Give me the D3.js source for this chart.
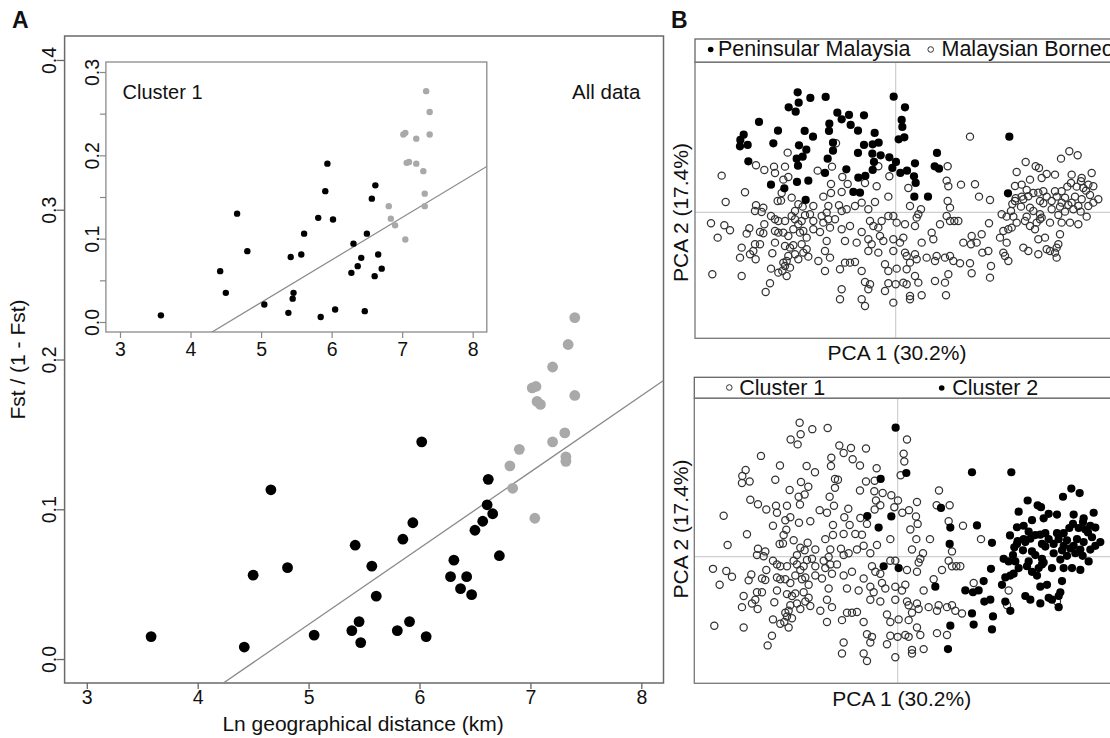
<!DOCTYPE html>
<html><head><meta charset="utf-8">
<script src="https://cdn.jsdelivr.net/npm/d3@7"></script>
<style>
body{margin:0;background:#fff}
svg{display:block}
text{font-family:"Liberation Sans",Arial,Helvetica,sans-serif;fill:#111}
</style>
</head><body>
<svg id="chart" width="1110" height="738"></svg>
<script>
// ---------------- DATA ----------------
const xTicks = [3, 4, 5, 6, 7, 8];
const mainYTicks = [0.0, 0.1, 0.2, 0.3, 0.4];
const insetYTicks = [0.0, 0.05, 0.1, 0.15, 0.2, 0.25, 0.3];
const insetYLabels = [0.0, 0.1, 0.2, 0.3];

// All data: [ln distance, Fst/(1-Fst)]
const mainBlack = [[3.58,0.015],[4.42,0.008],[4.50,0.056],[4.66,0.113],[4.81,0.061],[5.05,0.016],[5.42,0.076],[5.39,0.019],[5.455,0.025],[5.47,0.011],[5.57,0.062],[5.61,0.042],[5.80,0.019],[5.85,0.080],[5.91,0.025],[5.94,0.091],[6.02,0.145],[6.06,0.015],[6.28,0.055],[6.31,0.066],[6.37,0.047],[6.425,0.055],[6.47,0.043],[6.50,0.086],[6.57,0.092],[6.61,0.103],[6.62,0.120],[6.66,0.097],[6.72,0.069]];
const mainGray = [[6.815,0.129],[6.84,0.114],[6.90,0.140],[7.04,0.094],[7.016,0.181],[7.05,0.182],[7.06,0.172],[7.09,0.170],[7.20,0.195],[7.20,0.145],[7.31,0.151],[7.32,0.135],[7.32,0.132],[7.34,0.210],[7.40,0.228],[7.40,0.176]];
const mainFit = {intercept: -0.2314, slope: 0.0509};

// Cluster 1 inset
const insetBlack = [[3.58,0.008],[4.42,0.061],[4.50,0.035],[4.66,0.130],[4.805,0.085],[5.046,0.021],[5.42,0.078],[5.387,0.011],[5.46,0.035],[5.448,0.028],[5.57,0.081],[5.61,0.106],[5.81,0.125],[5.845,0.006],[5.91,0.157],[5.94,0.190],[6.02,0.123],[6.05,0.015],[6.28,0.059],[6.31,0.094],[6.37,0.067],[6.42,0.077],[6.47,0.013],[6.50,0.106],[6.57,0.148],[6.61,0.055],[6.62,0.164],[6.66,0.081],[6.71,0.064]];
const insetGray = [[6.81,0.139],[6.84,0.124],[6.90,0.116],[7.045,0.099],[7.017,0.225],[7.045,0.227],[7.064,0.191],[7.097,0.192],[7.20,0.220],[7.20,0.190],[7.30,0.181],[7.32,0.154],[7.32,0.139],[7.34,0.277],[7.39,0.252],[7.39,0.225]];
const insetFit = {intercept: -0.2316, slope: 0.0510};

// PCA scores: [PCA1, PCA2, cluster]
const peninsularPts = [[-2.94,3.60,1],[-2.91,3.29,1],[-2.56,3.43,1],[-2.10,3.46,1],[-3.21,3.15,1],[-3.00,3.02,1],[-0.06,3.47,2],[0.28,3.15,1],[-1.75,2.99,1],[-1.62,2.79,1],[-1.40,2.92,1],[-0.95,2.91,1],[-4.10,2.71,1],[-1.99,2.66,1],[-1.35,2.62,1],[0.18,2.77,1],[0.20,2.56,1],[-1.13,2.45,1],[-4.56,2.33,1],[-3.53,2.45,1],[-2.73,2.44,1],[-2.48,2.27,1],[-2.00,2.44,1],[0.09,2.19,1],[0.26,2.25,2],[-0.63,2.38,1],[-4.66,2.17,1],[-4.44,2.02,1],[-4.67,1.98,1],[-3.67,2.07,1],[-2.90,2.01,1],[-2.68,1.88,1],[-1.88,2.09,1],[-0.95,2.02,1],[-0.69,2.04,1],[-0.51,2.09,2],[-4.42,1.53,1],[-2.97,1.61,1],[-2.79,1.67,1],[-2.04,1.61,1],[-1.88,1.85,1],[-1.13,1.78,1],[-0.70,1.76,1],[-0.45,1.71,1],[-0.19,1.65,1],[0.01,1.51,1],[-0.65,1.51,1],[-0.10,1.33,1],[-2.93,1.40,1],[-2.12,1.18,1],[-1.48,1.29,1],[-0.69,1.27,1],[0.14,1.18,1],[0.34,1.25,1],[0.58,1.47,1],[1.24,1.78,1],[1.17,1.38,1],[1.30,1.31,2],[-3.74,0.83,1],[-3.34,0.72,1],[-2.96,0.91,1],[-2.62,0.95,1],[-1.12,1.04,1],[-0.91,1.09,2],[0.55,1.08,1],[0.60,0.88,1],[-1.27,0.61,1],[-1.07,0.59,1],[0.56,0.47,1],[0.97,0.47,1],[-2.70,0.37,1],[3.41,2.27,2],[3.37,0.57,2]];

const borneoPts = [
[-3.24,1.79,1],[-5.22,1.10,1],[-4.19,1.41,1],[-3.94,1.27,1],[-3.65,1.37,1],[-3.32,1.37,1],[-3.62,1.18,1],[-3.22,1.06,1],[-3.37,0.98,1],[-2.34,1.25,1],[-1.91,1.37,1],[-1.79,2.07,1],[-1.60,1.06,1],[-0.52,1.38,1],[-0.19,1.08,2],[1.56,1.38,1],[1.53,0.95,1],[1.58,0.78,2],[1.96,0.83,1],[2.38,0.84,2],[2.23,2.27,2],[-4.52,0.60,1],[-3.42,0.58,1],[-3.12,0.44,1],[-2.17,0.47,1],[-1.94,0.58,1],[-1.94,0.85,1],[-1.62,0.61,1],[-1.44,0.85,1],[-0.92,0.88,1],[-0.57,0.78,2],[0.38,0.73,1],[-2.79,0.17,1],
[5.21,1.83,2],[5.46,1.71,2],[4.96,1.61,2],[3.90,1.51,2],[4.20,1.38,2],[4.30,1.33,2],[3.63,1.21,2],[4.53,1.15,2],[4.78,1.13,2],[5.28,1.13,2],[5.58,1.03,2],[5.88,1.18,2],[4.03,0.98,2],[4.38,1.03,2],[3.78,0.83,2],[5.26,0.88,2],[5.56,0.93,2],[5.78,0.83,2],[5.93,0.78,2],[4.78,0.63,2],[4.98,0.63,2],[4.43,0.63,2],[4.13,0.58,2],[3.98,0.48,2],[2.50,0.47,1],[2.83,0.37,2],[6.08,0.39,2],[5.63,0.73,2],
[3.58,0.79,2],[4.28,0.59,2],[3.60,0.42,2],[3.78,0.47,2],[3.50,0.25,2],[5.43,0.77,2],[5.71,0.65,2],[5.18,0.22,2],[5.55,0.02,2],[4.83,0.47,2],[4.53,0.47,2],[4.93,0.17,2],[5.38,0.47,2],[5.83,0.52,2],[5.15,0.77,2],[3.93,0.67,2],[4.43,0.27,2],[3.76,0.17,2],[3.33,-0.13,2],[3.53,-0.13,2],[3.93,-0.13,2],[4.88,-0.08,2],[5.08,0.02,2],[5.73,-0.13,2],
[3.18,-0.06,2],[3.46,0.04,2],[3.58,0.34,2],[3.83,0.39,2],[4.03,0.14,2],[4.13,0.04,2],[4.33,0.34,2],[4.33,-0.06,2],[4.33,-0.21,2],[4.68,0.34,2],[4.68,0.09,2],[4.63,-0.31,2],[4.98,0.29,2],[5.08,0.44,2],[5.33,0.09,2],[5.28,0.29,2],[5.48,0.19,2],[5.58,0.39,2],[5.78,0.19,2],[5.93,0.29,2],[2.80,-0.33,2],[2.58,-0.66,2],[2.43,-0.91,2],[2.60,-1.21,2],[2.78,-1.16,2],[2.86,-1.61,2],[2.83,-1.96,2],[3.23,-0.56,2],[3.38,-0.51,2],[3.48,-0.46,2],[3.63,-0.31,2],[3.13,-0.76,2],[3.33,-0.91,1],[3.23,-1.21,2],[3.28,-1.31,1],[3.38,-1.46,2],[3.88,-0.26,2],[4.03,-0.41,2],[4.18,-0.51,2],[4.23,-0.31,2],[4.38,-0.16,2],[4.48,-0.76,2],[4.28,-0.81,2],[4.98,-0.31,2],[5.23,-0.31,2],[5.48,-0.36,2],[4.93,-0.66,2],[4.88,-0.96,2],[3.83,-1.06,2],[3.98,-1.16,2],[4.28,-1.26,2],[4.53,-1.11,2],[4.63,-1.16,2],[4.83,-1.06,2],[4.78,-1.21,1],[4.83,-1.36,2],
[-5.10,0.31,1],[-4.19,0.21,1],[-4.22,0.04,1],[-3.97,0.14,1],[-4.02,0.01,1],[-3.54,0.34,1],[-3.44,0.35,1],[-2.92,0.24,1],[-3.02,0.04,1],[-2.47,0.19,1],[-2.02,0.19,1],[-2.07,-0.01,1],[-5.54,-0.33,1],[-5.14,-0.39,1],[-4.97,-0.54,1],[-5.34,-0.76,1],[-4.39,-0.48,1],[-4.47,-0.64,1],[-4.07,-0.59,1],[-3.97,-0.63,1],[-3.94,-0.36,1],[-3.74,-0.11,1],[-3.62,-0.21,1],[-3.52,-0.26,1],[-3.32,-0.26,1],[-3.12,-0.11,1],[-3.02,-0.21,1],[-2.92,-0.36,1],[-2.82,-0.26,1],[-2.72,-0.09,1],[-2.57,-0.06,1],[-2.47,-0.26,1],[-2.22,-0.11,1],[-2.17,-0.31,1],[-2.02,-0.21,1],[-1.97,-0.46,1],[-3.62,-0.56,1],[-3.52,-0.61,1],[-3.37,-0.61,1],[-3.22,-0.71,1],[-3.07,-0.51,1],[-2.87,-0.61,1],[-2.77,-0.56,1],[-2.67,-0.76,1],[-2.47,-0.51,1],[-2.27,-0.59,1],[-2.07,-0.86,1],[-4.62,-1.06,1],[-4.67,-1.36,1],[-4.37,-1.26,1],[-4.27,-1.16,1],[-4.22,-0.96,1],[-4.07,-0.96,1],[-4.20,-1.41,1],[-3.70,-1.23,1],[-3.62,-0.91,1],[-3.32,-1.01,1],[-3.17,-1.06,1],[-3.07,-0.99,1],[-3.22,-1.31,1],[-3.27,-1.46,1],[-3.37,-1.51,1],[-3.02,-1.26,1],[-2.92,-1.41,1],[-2.82,-0.96,1],[-2.67,-1.11,1],[-2.62,-1.33,1],[-2.77,-1.21,1],[-2.32,-1.46,1],[-2.12,-1.16,1],[-1.97,-1.36,1],[-2.12,-1.76,1],[-3.74,-1.69,1],[-3.52,-1.81,1],[-3.40,-1.76,1],[-3.32,-1.61,1],[-3.17,-1.66,1],[-3.27,-1.91,1],[-5.50,-1.86,1],[-4.62,-1.91,1],[-3.77,-2.13,1],[-3.90,-2.39,1],
[-0.22,0.47,1],[0.43,0.19,1],[0.76,0.09,1],[1.56,0.34,2],[1.63,0.14,1],[1.53,-0.11,1],[-1.70,0.21,1],[-1.47,0.09,1],[-1.62,0.04,1],[-1.22,0.19,1],[-1.02,0.29,1],[-0.82,0.09,1],[-0.62,0.31,1],[-0.77,-0.26,1],[-0.67,-0.41,1],[-0.52,-0.46,1],[-0.42,-0.26,2],[-0.22,-0.11,1],[-0.07,-0.11,1],[0.03,-0.31,2],[0.28,-0.36,1],[0.63,-0.16,1],[0.58,-0.41,1],[0.68,-0.06,1],[1.33,-0.36,1],[1.63,-0.26,1],[1.76,-0.26,1],[1.88,-0.26,1],[2.03,-0.91,2],[2.26,-0.96,2],[2.28,-0.71,1],[-1.82,-0.21,1],[-1.62,-0.51,1],[-1.37,-0.41,1],[-1.02,-0.59,1],[-1.52,-0.86,1],[-1.17,-0.91,1],[-0.82,-0.81,1],[-0.72,-0.96,1],[-0.47,-0.71,1],[-0.37,-0.86,1],[-0.82,-1.16,1],[-0.52,-1.21,1],[-0.07,-0.81,1],[0.23,-0.76,1],[0.13,-0.91,1],[0.78,-0.91,1],[1.08,-0.61,1],[1.13,-0.81,2],[-0.07,-1.16,1],[0.33,-1.31,1],[0.28,-1.21,1],[0.58,-1.26,1],[0.63,-1.41,1],[0.43,-1.51,1],[0.93,-1.36,1],[1.18,-1.46,1],[1.23,-1.31,1],[1.48,-1.36,1],[1.63,-1.31,1],[1.73,-1.46,1],[-0.32,-1.56,1],[-0.22,-1.76,1],[0.03,-1.69,1],[0.33,-1.71,1],[0.58,-1.91,1],[0.68,-2.11,1],[0.23,-2.11,1],[0.33,-2.16,1],[0.00,-2.16,1],[-0.22,-2.13,1],[-0.92,-2.09,1],[-0.77,-2.16,1],[-0.82,-2.31,1],[-1.02,-2.61,1],[-0.92,-2.81,1],[-1.62,-2.31,1],[-1.67,-2.61,1],[-0.32,-2.36,1],[-0.07,-2.71,1],[0.43,-2.51,1],[0.43,-2.61,1],[0.78,-2.49,1],[1.51,-2.49,2],[1.18,-2.06,1],[1.48,-2.11,1],[1.58,-1.86,2],[-1.67,-1.71,1],[-1.52,-1.51,1],[-1.37,-1.51,1],[-1.22,-1.49,1],[-1.02,-1.76,1],[1.93,-1.53,1],[2.23,-1.53,2],[2.28,-1.83,2]
];

// ---------------- DRAW ----------------
const FONT = '"Liberation Sans", Arial, Helvetica, sans-serif';
const svg = d3.select('#chart');

// Panel labels
svg.append('text').attr('x', 12).attr('y', 28).attr('font-size', 23).attr('font-weight', 'bold').text('A');
svg.append('text').attr('x', 671).attr('y', 28).attr('font-size', 23).attr('font-weight', 'bold').text('B');

// ----- Panel A main -----
const mx = d3.scaleLinear().domain([2.8, 8.2]).range([64.6, 663.5]);
const my = d3.scaleLinear().domain([-0.016, 0.416]).range([683, 36]);

svg.append('clipPath').attr('id', 'clipMain').append('rect')
  .attr('x', mx.range()[0]).attr('y', my.range()[1])
  .attr('width', mx.range()[1] - mx.range()[0]).attr('height', my.range()[0] - my.range()[1]);

const gA = svg.append('g');
gA.append('rect').attr('x', mx.range()[0]).attr('y', my.range()[1])
  .attr('width', mx.range()[1] - mx.range()[0]).attr('height', my.range()[0] - my.range()[1])
  .attr('fill', 'none').attr('stroke', '#6a6a6a').attr('stroke-width', 1.5);

const gxA = gA.append('g').attr('transform', `translate(0,${my.range()[0]})`)
  .call(d3.axisBottom(mx).tickValues(xTicks).tickSize(6).tickFormat(d3.format('d')));
gxA.select('.domain').remove();
gxA.attr('font-family', FONT).attr('font-size', 19.5);
gxA.selectAll('line').attr('stroke', '#666').attr('stroke-width', 1.3);
gxA.selectAll('text').attr('y', 21).attr('dy', null).attr('fill', '#111');

const gyA = gA.append('g').attr('transform', `translate(${mx.range()[0]},0)`)
  .call(d3.axisLeft(my).tickValues(mainYTicks).tickSize(8).tickFormat(d3.format('.1f')));
gyA.select('.domain').remove();
gyA.attr('font-family', FONT).attr('font-size', 19.5);
gyA.selectAll('line').attr('stroke', '#666').attr('stroke-width', 1.3);
gyA.selectAll('text').attr('x', 0).attr('y', -9).attr('dy', null)
  .attr('text-anchor', 'middle').attr('transform', 'rotate(-90)').attr('fill', '#111');

gA.append('text').attr('x', (mx.range()[0] + mx.range()[1]) / 2 - 1).attr('y', 730.5)
  .attr('text-anchor', 'middle').attr('font-size', 21).text('Ln geographical distance (km)');
gA.append('text').attr('transform', `translate(25,${(my.range()[0] + my.range()[1]) / 2}) rotate(-90)`)
  .attr('text-anchor', 'middle').attr('font-size', 21).text('Fst / (1 - Fst)');

// fitted line
gA.append('line').attr('clip-path', 'url(#clipMain)')
  .attr('x1', mx(mx.domain()[0])).attr('y1', my(mainFit.intercept + mainFit.slope * mx.domain()[0]))
  .attr('x2', mx(mx.domain()[1])).attr('y2', my(mainFit.intercept + mainFit.slope * mx.domain()[1]))
  .attr('stroke', '#8a8a8a').attr('stroke-width', 1.3);

gA.append('g').selectAll('circle').data(mainGray).join('circle')
  .attr('cx', d => mx(d[0])).attr('cy', d => my(d[1])).attr('r', 5.4).attr('fill', '#a9a9a9');
gA.append('g').selectAll('circle').data(mainBlack).join('circle')
  .attr('cx', d => mx(d[0])).attr('cy', d => my(d[1])).attr('r', 5.4).attr('fill', '#000');

gA.append('text').attr('x', 572).attr('y', 99).attr('font-size', 20.5).text('All data');

// ----- Inset -----
const ix = d3.scaleLinear().domain([2.8, 8.2]).range([105.9, 486.8]);
const iy = d3.scaleLinear().domain([-0.012, 0.312]).range([332, 62]);

svg.append('clipPath').attr('id', 'clipInset').append('rect')
  .attr('x', ix.range()[0]).attr('y', iy.range()[1])
  .attr('width', ix.range()[1] - ix.range()[0]).attr('height', iy.range()[0] - iy.range()[1]);

const gI = svg.append('g');
gI.append('rect').attr('x', ix.range()[0]).attr('y', iy.range()[1])
  .attr('width', ix.range()[1] - ix.range()[0]).attr('height', iy.range()[0] - iy.range()[1])
  .attr('fill', '#fff').attr('stroke', '#8a8a8a').attr('stroke-width', 1.3);

const gxI = gI.append('g').attr('transform', `translate(0,${iy.range()[0]})`)
  .call(d3.axisBottom(ix).tickValues(xTicks).tickSize(6).tickFormat(d3.format('d')));
gxI.select('.domain').remove();
gxI.attr('font-family', FONT).attr('font-size', 19.5);
gxI.selectAll('line').attr('stroke', '#888').attr('stroke-width', 1.2);
gxI.selectAll('text').attr('y', 24).attr('dy', null).attr('fill', '#111');

const gyI = gI.append('g').attr('transform', `translate(${ix.range()[0]},0)`)
  .call(d3.axisLeft(iy).tickValues(insetYTicks).tickSize(6)
    .tickFormat(d => insetYLabels.some(v => Math.abs(v - d) < 1e-9) ? d3.format('.1f')(d) : ''));
gyI.select('.domain').remove();
gyI.attr('font-family', FONT).attr('font-size', 19.5);
gyI.selectAll('line').attr('stroke', '#888').attr('stroke-width', 1.2);
gyI.selectAll('text').attr('x', 0).attr('y', -7).attr('dy', null)
  .attr('text-anchor', 'middle').attr('transform', 'rotate(-90)').attr('fill', '#111');

gI.append('line').attr('clip-path', 'url(#clipInset)')
  .attr('x1', ix(ix.domain()[0])).attr('y1', iy(insetFit.intercept + insetFit.slope * ix.domain()[0]))
  .attr('x2', ix(ix.domain()[1])).attr('y2', iy(insetFit.intercept + insetFit.slope * ix.domain()[1]))
  .attr('stroke', '#8a8a8a').attr('stroke-width', 1.2);

gI.append('g').selectAll('circle').data(insetGray).join('circle')
  .attr('cx', d => ix(d[0])).attr('cy', d => iy(d[1])).attr('r', 3.2).attr('fill', '#a9a9a9');
gI.append('g').selectAll('circle').data(insetBlack).join('circle')
  .attr('cx', d => ix(d[0])).attr('cy', d => iy(d[1])).attr('r', 3.2).attr('fill', '#000');

gI.append('text').attr('x', 122.5).attr('y', 99).attr('font-size', 20).text('Cluster 1');

// ----- Panel B -----
function pcaPanel(cfg) {
  const g = svg.append('g');
  const sx = d3.scaleLinear().domain(cfg.xDom).range([cfg.left, 1115]);
  const sy = d3.scaleLinear().domain(cfg.yDom).range([cfg.bottom, cfg.top]);
  const clipId = 'clip' + cfg.id;
  svg.append('clipPath').attr('id', clipId).append('rect')
    .attr('x', cfg.left).attr('y', cfg.top).attr('width', 1115 - cfg.left).attr('height', cfg.bottom - cfg.top);
  g.append('rect').attr('x', cfg.left).attr('y', cfg.legTop).attr('width', 1115 - cfg.left)
    .attr('height', cfg.top - cfg.legTop).attr('fill', 'none').attr('stroke', '#666').attr('stroke-width', 1.3);
  g.append('line').attr('x1', sx(0)).attr('x2', sx(0)).attr('y1', cfg.top).attr('y2', cfg.bottom)
    .attr('stroke', '#cfcfcf').attr('stroke-width', 1.2);
  g.append('line').attr('x1', cfg.left).attr('x2', 1115).attr('y1', sy(0)).attr('y2', sy(0))
    .attr('stroke', '#cfcfcf').attr('stroke-width', 1.2);
  g.append('rect').attr('x', cfg.left).attr('y', cfg.top).attr('width', 1115 - cfg.left)
    .attr('height', cfg.bottom - cfg.top).attr('fill', 'none').attr('stroke', '#777').attr('stroke-width', 1.3);
  const pts = g.append('g').attr('clip-path', `url(#${clipId})`);
  pts.selectAll('circle.o').data(cfg.open).join('circle').attr('class', 'o')
    .attr('cx', d => sx(d[0])).attr('cy', d => sy(d[1])).attr('r', 3.6)
    .attr('fill', 'none').attr('stroke', '#333').attr('stroke-width', 1.25);
  pts.selectAll('circle.f').data(cfg.filled).join('circle').attr('class', 'f')
    .attr('cx', d => sx(d[0])).attr('cy', d => sy(d[1])).attr('r', 4.1).attr('fill', '#000');
  cfg.legend.forEach(l => {
    g.append('circle').attr('cx', l.cx).attr('cy', l.cy).attr('r', 2.8)
      .attr('fill', l.filled ? '#000' : 'none').attr('stroke', l.filled ? 'none' : '#333').attr('stroke-width', 1);
    g.append('text').attr('x', l.tx).attr('y', cfg.legBase).attr('font-size', 21.5).text(l.text);
  });
  g.append('text').attr('x', cfg.titleX).attr('y', cfg.titleY).attr('text-anchor', 'middle')
    .attr('font-size', 21).text('PCA 1 (30.2%)');
  g.append('text').attr('transform', `translate(687.5,${cfg.ylabY}) rotate(-90)`).attr('text-anchor', 'middle')
    .attr('font-size', 21).text('PCA 2 (17.4%)');
}

const allPts = peninsularPts.concat(borneoPts);

pcaPanel({
  id: 'top', left: 695, top: 62.3, bottom: 338.3, legTop: 39,
  xDom: [-6.02, 6.58], yDom: [-3.78, 4.50],
  open: borneoPts, filled: peninsularPts, legBase: 55.5,
  legend: [
    {cx: 710.7, cy: 49.5, filled: true, tx: 718, text: 'Peninsular Malaysia'},
    {cx: 930.7, cy: 49.5, filled: false, tx: 941.5, text: 'Malaysian Borneo'}
  ],
  titleX: 897, titleY: 359.5, ylabY: 212.5
});

pcaPanel({
  id: 'bot', left: 694.3, top: 398.3, bottom: 683.3, legTop: 377.3,
  xDom: [-6.10, 6.52], yDom: [-3.41, 4.26],
  open: allPts.filter(d => d[2] === 1), filled: allPts.filter(d => d[2] === 2), legBase: 395,
  legend: [
    {cx: 729.3, cy: 387.5, filled: false, tx: 739.3, text: 'Cluster 1'},
    {cx: 941.7, cy: 388, filled: true, tx: 952.3, text: 'Cluster 2'}
  ],
  titleX: 901.7, titleY: 706, ylabY: 529
});
</script>
</body></html>
